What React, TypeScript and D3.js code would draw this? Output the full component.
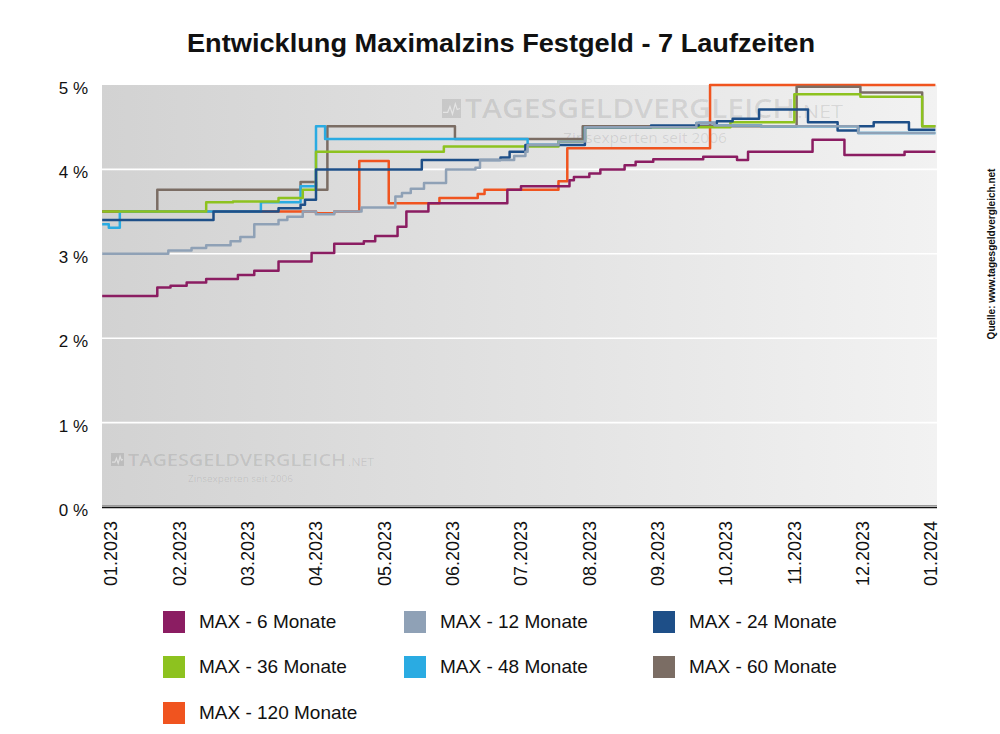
import React from 'react';
import * as d3 from 'd3';

// ---------- DATA ----------
const monthLabels = ['01.2023','02.2023','03.2023','04.2023','05.2023','06.2023','07.2023','08.2023','09.2023','10.2023','11.2023','12.2023','01.2024'];
const yTicks = [0, 1, 2, 3, 4, 5];
const seriesNames = ['MAX - 6 Monate','MAX - 12 Monate','MAX - 24 Monate','MAX - 36 Monate','MAX - 48 Monate','MAX - 60 Monate','MAX - 120 Monate'];
const seriesColors = ['#8b1d62','#8fa1b6','#1e4f88','#8dc21f','#2aabe2','#7b6d64','#f0541f'];
const endDate = '2024-01-03';

const max6: [string, number][] = [
  ['2022-12-28',2.50],['2023-01-22',2.60],['2023-01-28',2.62],['2023-02-04',2.66],['2023-02-12',2.70],
  ['2023-02-25',2.75],['2023-03-04',2.80],['2023-03-15',2.91],['2023-03-30',3.01],['2023-04-09',3.12],
  ['2023-04-22',3.15],['2023-04-27',3.21],['2023-05-07',3.32],['2023-05-11',3.50],['2023-05-21',3.60],
  ['2023-06-25',3.76],['2023-07-01',3.80],['2023-07-23',3.87],['2023-07-25',3.91],['2023-08-01',3.95],
  ['2023-08-06',4.00],['2023-08-17',4.05],['2023-08-22',4.09],['2023-08-30',4.12],['2023-09-21',4.15],
  ['2023-10-06',4.11],['2023-10-11',4.21],['2023-11-09',4.35],['2023-11-23',4.17],['2023-12-20',4.21],
];
const max12: [string, number][] = [
  ['2022-12-28',3.00],['2023-01-27',3.04],['2023-02-06',3.07],['2023-02-12',3.10],['2023-02-22',3.15],
  ['2023-02-26',3.20],['2023-03-04',3.35],['2023-03-15',3.40],['2023-03-19',3.44],['2023-03-26',3.50],
  ['2023-04-01',3.47],['2023-04-09',3.50],['2023-04-21',3.55],['2023-05-06',3.68],['2023-05-09',3.72],
  ['2023-05-13',3.77],['2023-05-19',3.84],['2023-05-29',4.00],['2023-06-11',4.02],['2023-06-13',4.11],
  ['2023-06-28',4.16],['2023-07-03',4.21],['2023-07-04',4.29],['2023-07-18',4.33],['2023-07-30',4.50],
  ['2023-09-18',4.55],['2023-09-26',4.52],['2023-10-17',4.51],['2023-11-29',4.43],
];
const max24: [string, number][] = [
  ['2022-12-28',3.40],['2023-02-15',3.50],['2023-03-15',3.54],['2023-03-25',3.58],['2023-03-27',3.64],
  ['2023-04-01',4.00],['2023-05-18',4.11],['2023-06-22',4.14],['2023-06-26',4.21],['2023-07-03',4.29],
  ['2023-07-30',4.50],['2023-08-29',4.52],['2023-09-19',4.55],['2023-09-27',4.57],['2023-10-04',4.60],
  ['2023-10-16',4.71],['2023-11-07',4.56],['2023-11-20',4.46],['2023-11-29',4.51],['2023-12-06',4.56],
  ['2023-12-22',4.47],
];
const max36: [string, number][] = [
  ['2022-12-28',3.50],['2023-02-12',3.61],['2023-02-23',3.62],['2023-03-15',3.66],['2023-03-26',3.76],
  ['2023-04-01',4.21],['2023-05-28',4.27],['2023-07-18',4.33],['2023-07-30',4.50],['2023-10-03',4.56],
  ['2023-11-01',4.89],['2023-11-30',4.86],['2023-12-28',4.51],
];
const max48: [string, number][] = [
  ['2022-12-28',3.35],['2022-12-31',3.31],['2023-01-05',3.50],['2023-03-07',3.61],['2023-03-25',3.80],
  ['2023-04-01',4.51],['2023-04-05',4.36],['2023-07-04',4.29],['2023-07-18',4.33],['2023-07-30',4.50],
  ['2023-09-18',4.55],['2023-09-26',4.52],['2023-10-17',4.51],['2023-11-29',4.43],
];
const max60: [string, number][] = [
  ['2022-12-28',3.50],['2023-01-22',3.76],['2023-03-25',3.85],['2023-04-01',3.76],['2023-04-06',4.51],
  ['2023-06-02',4.36],['2023-07-29',4.51],['2023-11-02',4.98],['2023-11-30',4.91],['2023-12-28',4.51],
];
const max120: [string, number][] = [
  ['2022-12-28',3.50],['2023-04-01',3.48],['2023-04-09',3.50],['2023-04-20',4.10],['2023-05-03',3.60],
  ['2023-05-26',3.66],['2023-06-12',3.71],['2023-06-15',3.76],['2023-07-18',3.86],['2023-07-22',4.25],
  ['2023-09-24',5.00],
];

const seriesData = [max6, max12, max24, max36, max48, max60, max120];
// bottom → top drawing order (indices into seriesData)
const drawOrder = [6, 5, 4, 3, 2, 1, 0];

// ---------- HELPERS ----------
function monthIndex(s: string): number {
  const [y, m, d] = s.split('-').map(Number);
  const dim = new Date(Date.UTC(y, m, 0)).getUTCDate();
  return (y - 2023) * 12 + (m - 1) + (d - 1) / dim;
}

const W = 1000, H = 734;
const plotL = 102, plotR = 937, plotT = 85, plotB = 507;
const x = d3.scaleLinear().domain([0, 12]).range([111, 931]);
const y = d3.scaleLinear().domain([0, 5]).range([plotB, plotT]);
const font = 'Liberation Sans, Arial, Helvetica, sans-serif';

const line = d3.line<[number, number]>()
  .x(d => x(d[0]))
  .y(d => y(d[1]))
  .curve(d3.curveStepAfter);

function pathFor(data: [string, number][]) {
  const pts: [number, number][] = data.map(([dt, v]) => [monthIndex(dt), v]);
  pts.push([monthIndex(endDate), data[data.length - 1][1]]);
  return line(pts) || '';
}

function Watermark({ x0, yb, big, small, sub, subX, subY, wMain, wNet, wSub, iconS }:
  { x0: number; yb: number; big: number; small: number; sub: number; subX: number; subY: number; wMain: number; wNet: number; wSub: number; iconS: number }) {
  const c = 'rgba(0,0,0,0.1)';
  return (
    <g fontFamily="Open Sans, Liberation Sans, sans-serif" fill={c}>
      <rect x={x0} y={yb - iconS} width={iconS} height={iconS} fill={c} />
      <polyline
        points={`${x0 + 1},${yb - iconS * 0.3} ${x0 + iconS * 0.3},${yb - iconS * 0.3} ${x0 + iconS * 0.42},${yb - iconS * 0.6} ${x0 + iconS * 0.55},${yb - iconS * 0.2} ${x0 + iconS * 0.7},${yb - iconS * 0.75} ${x0 + iconS * 0.8},${yb - iconS * 0.45} ${x0 + iconS - 1},${yb - iconS * 0.5}`}
        fill="none" stroke="rgba(255,255,255,0.5)" strokeWidth={1.2} />
      <text x={x0 + iconS + 4} y={yb} fontSize={big} fontWeight={600} textLength={wMain} lengthAdjust="spacingAndGlyphs">TAGESGELDVERGLEICH</text>
      <text x={x0 + iconS + 6 + wMain} y={yb} fontSize={small} textLength={wNet} lengthAdjust="spacingAndGlyphs">.NET</text>
      <text x={subX} y={subY} fontSize={sub} textLength={wSub} lengthAdjust="spacingAndGlyphs">Zinsexperten seit 2006</text>
    </g>
  );
}

export default function App() {
  const legendCols = [163, 404, 653];
  const legendRows = [611, 656, 702];
  return (
    <svg width={W} height={H} style={{ position: 'absolute', left: 0, top: 0, background: '#fff' }}>
      <defs>
        <linearGradient id="bg" x1="0" y1="0" x2="1" y2="0">
          <stop offset="0" stopColor="#d2d2d2" />
          <stop offset="1" stopColor="#f2f2f2" />
        </linearGradient>
        <clipPath id="clip">
          <rect x={plotL} y={plotT - 3} width={plotR - plotL} height={plotB - plotT + 3} />
        </clipPath>
      </defs>

      {/* Title */}
      <text x={501} y={52} textAnchor="middle" fontFamily="Liberation Sans Narrow, Arial Narrow, Liberation Sans, Arial, sans-serif"
        fontWeight="bold" fontSize={26} fill="#111" textLength={628} lengthAdjust="spacingAndGlyphs">
        Entwicklung Maximalzins Festgeld - 7 Laufzeiten
      </text>

      {/* Plot background */}
      <rect x={plotL} y={plotT} width={plotR - plotL} height={plotB - plotT} fill="url(#bg)" />

      {/* Gridlines */}
      {yTicks.filter(t => t > 0 && t < 5).map(t => (
        <line key={t} x1={plotL} x2={plotR} y1={y(t)} y2={y(t)} stroke="#fff" strokeWidth={1.6} />
      ))}

      {/* Watermarks */}
      <Watermark x0={442} yb={118} big={27} small={18} sub={15} subX={563} subY={143} wMain={330} wNet={46} wSub={164} iconS={19} />
      <Watermark x0={111} yb={466} big={17} small={11} sub={9} subX={188} subY={482} wMain={218} wNet={26} wSub={105} iconS={13} />

      {/* Lines */}
      <g clipPath="url(#clip)" fill="none" strokeWidth={2.5} strokeLinejoin="round">
        {drawOrder.map(i => (
          <path key={i} d={pathFor(seriesData[i])} stroke={seriesColors[i]} />
        ))}
      </g>

      {/* Axis line */}
      <line x1={plotL} x2={plotR} y1={plotB - 1.5} y2={plotB - 1.5} stroke="#9a9a9a" strokeWidth={1} />
      <line x1={plotL} x2={plotR} y1={plotB + 0.5} y2={plotB + 0.5} stroke="#111" strokeWidth={1.6} />

      {/* Y labels */}
      {yTicks.map(t => (
        <text key={t} x={88} y={y(t) + 9} textAnchor="end" fontFamily={font} fontSize={17} fill="#111">
          {`${t} %`}
        </text>
      ))}

      {/* X labels */}
      {monthLabels.map((lab, i) => (
        <text key={lab} transform={`translate(${x(i)},521) rotate(-90)`} textAnchor="end" dy="0.36em"
          fontFamily={font} fontSize={18} fill="#111">
          {lab}
        </text>
      ))}

      {/* Source */}
      <text transform="translate(991,254) rotate(-90)" textAnchor="middle" dy="0.35em" fontFamily={font}
        fontSize={10} fontWeight="bold" fill="#111">
        Quelle: www.tagesgeldvergleich.net
      </text>

      {/* Legend */}
      {seriesNames.map((name, i) => {
        const cx = legendCols[i % 3];
        const cy = legendRows[Math.floor(i / 3)];
        return (
          <g key={name}>
            <rect x={cx} y={cy} width={22} height={22} fill={seriesColors[i]} />
            <text x={cx + 36} y={cy + 17} fontFamily={font} fontSize={19} fill="#111">{name}</text>
          </g>
        );
      })}
    </svg>
  );
}
